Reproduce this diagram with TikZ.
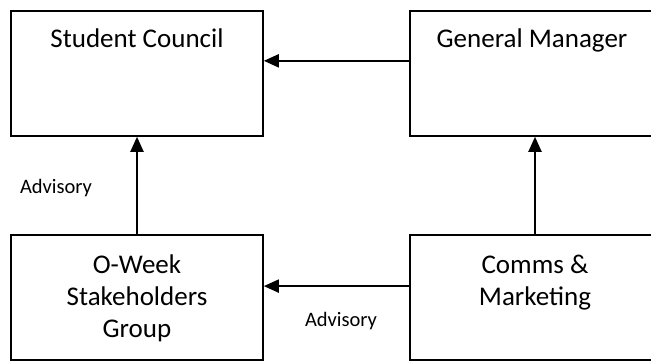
\documentclass[tikz,border=0pt]{standalone}
\usepackage{fontspec}
\setmainfont{Carlito}
\usetikzlibrary{arrows.meta,calc}
\begin{document}
\begin{tikzpicture}[x=1pt,y=-1pt,
  box/.style={draw,line width=1.6pt,inner sep=0pt},
  big/.style={font=\fontsize{27}{32}\selectfont,anchor=base,inner sep=0pt,align=center},
  small/.style={font=\fontsize{20.5}{24}\selectfont,anchor=base,inner sep=0pt},
  conn/.style={line width=2pt,-{Triangle[length=15pt,width=13pt]}}]
\useasboundingbox (0,0) rectangle (651,361);
\clip (0,0) rectangle (651,361);
\node[box,minimum width=252pt,minimum height=125pt] (sc) at (137,73.5) {};
\node[box,minimum width=250pt,minimum height=125pt] (gm) at (535,73.5) {};
\node[box,minimum width=252pt,minimum height=125pt] (ow) at (137,297.5) {};
\node[box,minimum width=250pt,minimum height=125pt] (cm) at (535,297.5) {};
\node[big] (sct) at (137,47.5) {Student Council};
\node[big] (gmt) at (532,47.5) {General Manager};
\node[big] (owt1) at (137,273) {O-Week};
\node[big] (owt2) at (137,305) {Stakeholders};
\node[big] (owt3) at (137,337) {Group};
\node[big] (cmt1) at (535,273) {Comms \&};
\node[big] (cmt2) at (535,305) {Marketing};
\node[small] (adv1) at (56,193) {Advisory};
\node[small] (adv2) at (341,326) {Advisory};
\draw[conn] ($(gm.north west)!0.4!(gm.south west)$) -- ($(sc.north east)!0.4!(sc.south east)$);
\draw[conn] ($(cm.north west)!0.41!(cm.south west)$) -- ($(ow.north east)!0.41!(ow.south east)$);
\draw[conn] (ow.north) -- (sc.south);
\draw[conn] (cm.north) -- (gm.south);
\end{tikzpicture}
\end{document}
